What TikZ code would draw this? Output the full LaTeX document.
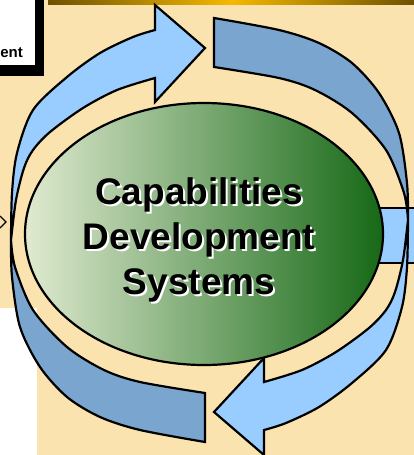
\documentclass[tikz,border=0pt]{standalone}
\usepackage{fontspec}
\setmainfont{Liberation Sans}

\definecolor{paper}{RGB}{251,227,176}
\definecolor{ringlight}{RGB}{153,204,255}
\definecolor{ringdark}{RGB}{121,165,206}
\definecolor{leafpale}{RGB}{224,234,208}
\definecolor{leafmid}{RGB}{160,190,115}
\definecolor{leafdark}{RGB}{22,104,22}
\definecolor{barbrown}{RGB}{110,82,0}
\definecolor{bargold}{RGB}{245,185,0}

\begin{document}
\begin{tikzpicture}[x=1pt, y=-1pt,
  band/.style={draw=black, line width=2.2pt},
  titletext/.style={align=center, inner sep=0pt, font=\fontsize{37}{45}\selectfont\bfseries}]

\useasboundingbox (0,0) rectangle (414,455);
\clip (0,0) rectangle (414,455);

% Background of the slide
\fill[paper] (0,0) rectangle (414,455);
\fill[white] (0,308) rectangle (37,455);

% Box at the top left, with its shadow
\fill[black] (-20,-20) rectangle (44,76);
\fill[white] (-20,-20) rectangle (35,65);
\node[inner sep=0pt, anchor=base east, font=\fontsize{15}{18}\selectfont\bfseries] (boxlabel) at (23,57) {ent};

% Bar along the top
\shade[left color=barbrown, right color=barbrown, middle color=bargold] (48,0) rectangle (414,4);

% Arrow leaving on the right
\draw[band, fill=ringlight] (370,208) rectangle (430,263);

% Arrow coming in on the left
\coordinate (intip) at (6,222);
\draw[line width=1.2pt, fill=paper] (0,216) -- (intip) -- (0,228);

% Ring of arrows, the second half is the first one turned round
\coordinate (ringcentre) at (209.5,230);
\foreach \turn in {0,180}{
\begin{scope}[rotate around={\turn:(ringcentre)}]
\draw[band, fill=ringlight] plot[smooth] coordinates {(11,240) (12,193) (17,153) (33,110) (67,77) (100,53) (133,37) (155,30)}
  -- (155,5) -- (205,48) -- (155,102) -- (155,78)
  -- plot[smooth] coordinates {(155,78) (117,90) (83,108) (50,132) (33,150) (24,168) (16,200) (11,240)} -- cycle;
\draw[band, fill=ringdark] plot[smooth] coordinates {(11,240) (12,277) (20,327) (40,367) (67,397) (100,417) (140,430) (205,442)}
  -- (205,393)
  -- plot[smooth] coordinates {(205,393) (140,382) (104,370) (67,347) (33,310) (15,267) (11,240)} -- cycle;
\end{scope}
}

% Ellipse in the middle
\draw[band, left color=leafpale, middle color=leafmid, right color=leafdark] (204,234) ellipse [x radius=179, y radius=131];

% Title with its white glow
\node[titletext, text=white] (titleglow) at (201,242) {Capabilities\\Development\\Systems};
\node[titletext] (title) at (199,240) {Capabilities\\Development\\Systems};

\end{tikzpicture}
\end{document}
